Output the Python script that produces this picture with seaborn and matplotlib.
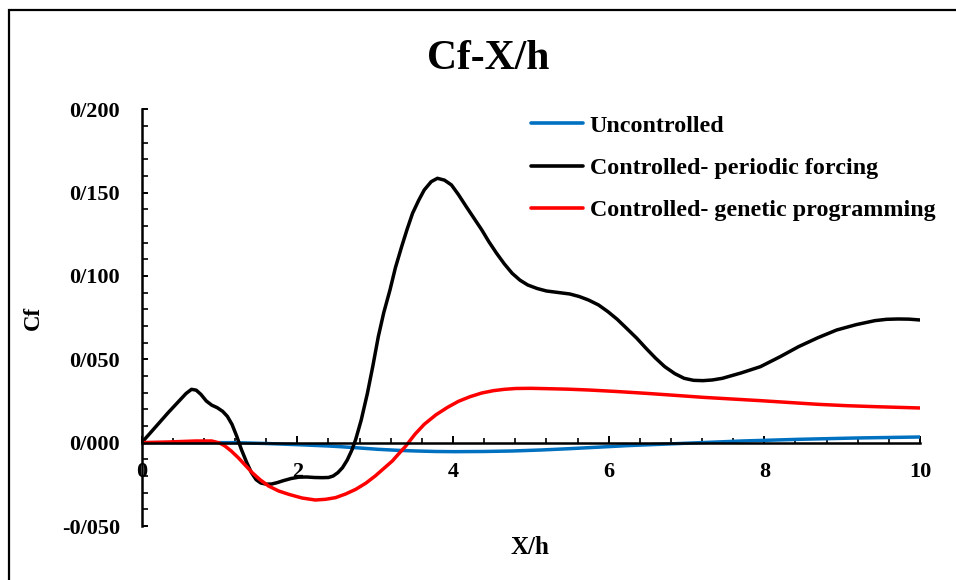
import matplotlib
matplotlib.use("Agg")
import matplotlib.pyplot as plt
from matplotlib.patches import Rectangle
from matplotlib.ticker import MultipleLocator, FuncFormatter
import pandas as pd
import seaborn as sns

# Skin-friction coefficient along the wall, X/h
uncontrolled_x = [0, 0.6, 1.2, 1.6, 2.0, 2.4, 2.55, 2.8, 3.04, 3.29, 3.53, 3.78, 4.02,
                  4.39, 4.76, 5.13, 5.50, 5.87, 6.23, 6.60, 6.97, 7.34, 7.71, 8.08,
                  8.44, 8.81, 9.18, 9.59, 10.0]
uncontrolled_y = [0.0, 0.0, 0.0, -0.0005, -0.0012, -0.002, -0.0024, -0.0032, -0.004,
                  -0.0046, -0.005, -0.0053, -0.0054, -0.0053, -0.005, -0.0044, -0.0036,
                  -0.0027, -0.0018, -0.0011, -0.0004, 0.0003, 0.001, 0.0015, 0.002,
                  0.0024, 0.0028, 0.0031, 0.0034]

periodic_x = [0, 0.17, 0.34, 0.48, 0.57, 0.64, 0.70, 0.76, 0.83, 0.90, 0.97, 1.04,
              1.10, 1.16, 1.22, 1.28, 1.35, 1.41, 1.47, 1.53, 1.60, 1.67, 1.74, 1.82,
              1.92, 2.02, 2.12, 2.22, 2.32, 2.40, 2.46, 2.52, 2.58, 2.64, 2.70, 2.75,
              2.82, 2.90, 2.97, 3.04, 3.11, 3.19, 3.26, 3.34, 3.41, 3.48, 3.56, 3.63,
              3.72, 3.80, 3.89, 3.98, 4.07, 4.17, 4.27, 4.37, 4.46, 4.56, 4.66, 4.76,
              4.86, 4.96, 5.08, 5.20, 5.35, 5.50, 5.62, 5.74, 5.87, 5.99, 6.11, 6.23,
              6.36, 6.48, 6.60, 6.72, 6.85, 6.97, 7.09, 7.21, 7.33, 7.46, 7.70, 7.95,
              8.20, 8.44, 8.69, 8.93, 9.18, 9.42, 9.57, 9.72, 9.86, 10.0]
periodic_y = [0.0, 0.009, 0.018, 0.025, 0.0295, 0.032, 0.0315, 0.029, 0.025, 0.0225,
              0.021, 0.0188, 0.0158, 0.011, 0.004, -0.004, -0.012, -0.018, -0.0222,
              -0.0242, -0.0249, -0.0248, -0.024, -0.0228, -0.0215, -0.0207, -0.0206,
              -0.0209, -0.021, -0.0209, -0.02, -0.018, -0.015, -0.0105, -0.0045, 0.002,
              0.0135, 0.0296, 0.046, 0.0636, 0.078, 0.0916, 0.105, 0.1176, 0.128,
              0.1376, 0.1455, 0.1516, 0.1566, 0.1586, 0.1575, 0.1546, 0.1488, 0.1416,
              0.1346, 0.1276, 0.1206, 0.1136, 0.1072, 0.1016, 0.0975, 0.0946, 0.0925,
              0.091, 0.0901, 0.0892, 0.0877, 0.0856, 0.0826, 0.0786, 0.074, 0.0686,
              0.0627, 0.0566, 0.0508, 0.0456, 0.0414, 0.0386, 0.0374, 0.0372, 0.0376,
              0.0386, 0.0418, 0.0456, 0.0515, 0.0576, 0.063, 0.0676, 0.0708, 0.0732,
              0.074, 0.0742, 0.0741, 0.0736]

genetic_x = [0, 0.34, 0.69, 0.90, 1.00, 1.07, 1.15, 1.24, 1.33, 1.42, 1.52, 1.63,
             1.76, 1.89, 2.06, 2.23, 2.36, 2.49, 2.62, 2.75, 2.88, 3.0, 3.11, 3.22,
             3.30, 3.39, 3.51, 3.63, 3.78, 3.93, 4.07, 4.22, 4.37, 4.52, 4.66, 4.81,
             5.00, 5.20, 5.47, 5.74, 6.10, 6.48, 6.85, 7.21, 7.58, 7.95, 8.32, 8.69,
             9.05, 9.42, 9.71, 10.0]
genetic_y = [0.0, 0.0004, 0.001, 0.001, -0.0002, -0.002, -0.005, -0.009, -0.0135,
             -0.018, -0.0222, -0.026, -0.029, -0.031, -0.0332, -0.0344, -0.034, -0.033,
             -0.0308, -0.028, -0.0243, -0.02, -0.0155, -0.011, -0.0068, -0.0022, 0.005,
             0.011, 0.0167, 0.0212, 0.0248, 0.0276, 0.0298, 0.0312, 0.032, 0.0325,
             0.0326, 0.0324, 0.0321, 0.0316, 0.0307, 0.0296, 0.0284, 0.0272, 0.0262,
             0.0252, 0.0241, 0.023, 0.0222, 0.0216, 0.0212, 0.0208]

series_names = ["Uncontrolled", "Controlled- periodic forcing",
                "Controlled- genetic programming"]
series_colors = ["#0070C0", "#000000", "#FF0000"]

frames = []
for name, xs, ys in zip(series_names,
                        [uncontrolled_x, periodic_x, genetic_x],
                        [uncontrolled_y, periodic_y, genetic_y]):
    frames.append(pd.DataFrame({"X/h": xs, "Cf": ys, "series": name}))
data = pd.concat(frames, ignore_index=True)

sns.set_theme(style="white")
plt.rcParams["font.family"] = ["Liberation Serif", "DejaVu Serif"]
plt.rcParams["font.weight"] = "bold"
for key in ("text.color", "axes.labelcolor", "xtick.color", "ytick.color"):
    plt.rcParams[key] = "black"

W, H = 956, 580
fig = plt.figure(figsize=(W / 100, H / 100), dpi=100)
ax = fig.add_axes([141.7 / W, 1 - 526 / H, (920 - 141.7) / W, (526 - 109.3) / H])

sns.lineplot(data=data, x="X/h", y="Cf", hue="series", hue_order=series_names,
             palette=dict(zip(series_names, series_colors)), estimator=None,
             sort=False, linewidth=2.5, ax=ax, legend=True)
for ln in ax.get_lines():
    ln.set_solid_joinstyle("round")
    ln.set_solid_capstyle("round")

ax.set_xlim(0, 10)
ax.set_ylim(-0.05, 0.2)

# axis lines: vertical on the left, horizontal through Cf = 0
for side in ("top", "right"):
    ax.spines[side].set_visible(False)
ax.spines["bottom"].set_position(("data", 0))
for side in ("left", "bottom"):
    ax.spines[side].set_color("black")
    ax.spines[side].set_linewidth(1.8)

ax.xaxis.set_major_locator(MultipleLocator(2))
ax.xaxis.set_minor_locator(MultipleLocator(0.4))
ax.yaxis.set_major_locator(MultipleLocator(0.05))
ax.yaxis.set_minor_locator(MultipleLocator(0.01))
ax.xaxis.set_major_formatter(FuncFormatter(lambda v, p: f"{v:.0f}"))
ax.yaxis.set_major_formatter(
    FuncFormatter(lambda v, p: f"{v:.3f}".replace(".", "/").replace("-0/000", "0/000")))

ax.tick_params(axis="x", which="major", direction="in", length=5, width=1.4,
               color="black", pad=14, labelsize=16, labelcolor="black")
ax.tick_params(axis="x", which="minor", direction="in", length=3.5, width=1.2,
               color="black")
ax.tick_params(axis="y", which="major", direction="in", length=4.5, width=1.4,
               color="black", pad=15.5, labelsize=16, left=True, labelcolor="black")
ax.tick_params(axis="y", which="minor", direction="in", length=4.5, width=1.2,
               color="black", left=True)
ax.tick_params(axis="x", which="both", bottom=True)
for lab in ax.get_xticklabels() + ax.get_yticklabels():
    lab.set_fontweight("bold")

ax.set_xlabel("X/h", fontsize=18, fontweight="bold", va="baseline", color="black")
ax.xaxis.set_label_coords((530 - 141.7) / (920 - 141.7), -(554 - 526) / (526 - 109.3))
ax.set_ylabel("Cf", fontsize=16.5, fontweight="bold", color="black")
ax.yaxis.set_label_coords(-(141.7 - 44) / (920 - 141.7), 0.5)

handles, labels = ax.get_legend_handles_labels()
leg = ax.legend(handles, labels, loc="upper left", frameon=False,
                bbox_to_anchor=(531 / W, 1 - 115 / H), bbox_transform=fig.transFigure,
                prop={"family": "Liberation Serif", "weight": "bold", "size": 17.3},
                handlelength=2.15, handletextpad=0.3, labelspacing=0.85,
                borderpad=0, borderaxespad=0)
for h in leg.get_lines():
    h.set_linewidth(2.6)
for t in leg.get_texts():
    t.set_color("black")

fig.text(488 / W, 1 - 69 / H, "Cf-X/h", ha="center", va="baseline",
         fontsize=30, fontweight="bold", color="black")

# outer chart frame
fig.add_artist(Rectangle((8.5 / W, -0.1), 1.2, 1.1 - 10.5 / H, transform=fig.transFigure,
                         fill=False, edgecolor="black", linewidth=1.6))

fig.savefig("out.png", dpi=100)
